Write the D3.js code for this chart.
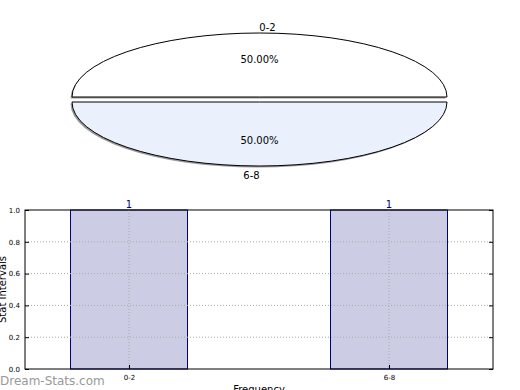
<!DOCTYPE html>
<html><head><meta charset="utf-8">
<script src="https://cdn.jsdelivr.net/npm/d3@7"></script>
<style>body{margin:0;background:#fff}svg{display:block;font-family:"DejaVu Sans",sans-serif}</style>
</head><body>
<svg id="c" width="520" height="390"></svg>
<script>
const categories = ["0-2", "6-8"];
const counts = [1, 1];
const pctLabels = ["50.00%", "50.00%"];
const yTicks = [0, 0.2, 0.4, 0.6, 0.8, 1.0];

const svg = d3.select("#c");

// ---------- Pie (ellipse) ----------
const cx = 259.5, cy = 99.5, rx = 187.5, ry = 64, explode = 2.5;
const pie = d3.pie().sort(null).startAngle(-Math.PI/2).endAngle(3*Math.PI/2)(counts);
const arc = d3.arc().innerRadius(0).outerRadius(1);
const fills = ["#ffffff", "#eaf1fd"];
pie.forEach((d, i) => {
  const mid = (d.startAngle + d.endAngle) / 2;
  const dx = Math.sin(mid) * explode, dy = -Math.cos(mid) * explode;
  // shadow
  svg.append("path").attr("d", arc(d))
    .attr("transform", `translate(${cx+dx-1.5},${cy+dy+1.5}) scale(${rx},${ry})`)
    .attr("fill", "#999").attr("stroke", "none");
  svg.append("path").attr("d", arc(d))
    .attr("transform", `translate(${cx+dx},${cy+dy}) scale(${rx},${ry})`)
    .attr("fill", fills[i]).attr("stroke", "#000").attr("stroke-width", 1)
    .attr("vector-effect", "non-scaling-stroke");
  const c = d3.arc().innerRadius(0.6).outerRadius(0.6).centroid(d);
  svg.append("text").attr("x", cx + dx + c[0]*rx).attr("y", cy + dy + c[1]*ry + 4)
    .attr("text-anchor", "middle").attr("font-size", 10).text(pctLabels[i]);
  const o = d3.arc().innerRadius(1.1).outerRadius(1.1).centroid(d);
  svg.append("text").attr("x", cx + dx + o[0]*rx + (i===0?8:-8)).attr("y", cy + dy + o[1]*ry + (i===0?4:7))
    .attr("text-anchor", "middle").attr("font-size", 10).text(categories[i]);
});

// ---------- Bar chart ----------
const L = 25, R = 493, T = 210, B = 369;
const x = d3.scaleLinear().domain([-0.4, 1.4]).range([L, R]);
const y = d3.scaleLinear().domain([0, 1]).range([B, T]);
const bw = 0.45;
const g = svg.append("g");

// bars
categories.forEach((c, i) => {
  g.append("rect").attr("x", x(i - bw/2)).attr("y", y(counts[i]))
    .attr("width", x(i + bw/2) - x(i - bw/2)).attr("height", y(0) - y(counts[i]))
    .attr("fill", "#ccccE4").attr("stroke", "#000080").attr("stroke-width", 1);
});

// grid
yTicks.slice(1, -1).forEach(t => {
  g.append("line").attr("x1", L).attr("x2", R).attr("y1", y(t)).attr("y2", y(t))
    .attr("stroke", "#aaa").attr("stroke-dasharray", "1,2");
});
categories.forEach((c, i) => {
  g.append("line").attr("x1", x(i)).attr("x2", x(i)).attr("y1", T).attr("y2", B)
    .attr("stroke", "#aaa").attr("stroke-dasharray", "1,2");
});

// frame
g.append("rect").attr("x", L).attr("y", T).attr("width", R - L).attr("height", B - T)
  .attr("fill", "none").attr("stroke", "#000").attr("stroke-width", 1);

// y axis
const ya = g.append("g").attr("transform", `translate(${L},0)`)
  .call(d3.axisLeft(y).tickValues(yTicks).tickFormat(d3.format(".1f")).tickSize(-4).tickPadding(5));
ya.select(".domain").remove();
ya.selectAll("text").attr("font-size", 7).attr("font-family", "DejaVu Sans");
ya.selectAll("line").attr("stroke", "#000");
const yr = g.append("g").attr("transform", `translate(${R},0)`)
  .call(d3.axisRight(y).tickValues(yTicks).tickFormat("").tickSize(-4));
yr.select(".domain").remove();

// x axis
const xa = g.append("g").attr("transform", `translate(0,${B})`)
  .call(d3.axisBottom(x).tickValues([0, 1]).tickFormat(i => categories[i]).tickSize(-4).tickPadding(6));
xa.select(".domain").remove();
xa.selectAll("text").attr("font-size", 7).attr("font-family", "DejaVu Sans");

// value labels
categories.forEach((c, i) => {
  g.append("text").attr("x", x(i)).attr("y", y(counts[i]) - 2)
    .attr("text-anchor", "middle").attr("font-size", 10).attr("fill", "#000080").text(counts[i]);
});

// axis labels
svg.append("text").attr("transform", `translate(6,${(T+B)/2}) rotate(-90)`)
  .attr("text-anchor", "middle").attr("font-size", 10).text("Stat Intervals");
svg.append("text").attr("x", (L+R)/2 + 0).attr("y", 393)
  .attr("text-anchor", "middle").attr("font-size", 10).text("Frequency");

// watermark
svg.append("text").attr("x", 0).attr("y", 385).attr("font-size", 12)
  .attr("fill", "#999").text("Dream-Stats.com");
</script>
</body></html>
